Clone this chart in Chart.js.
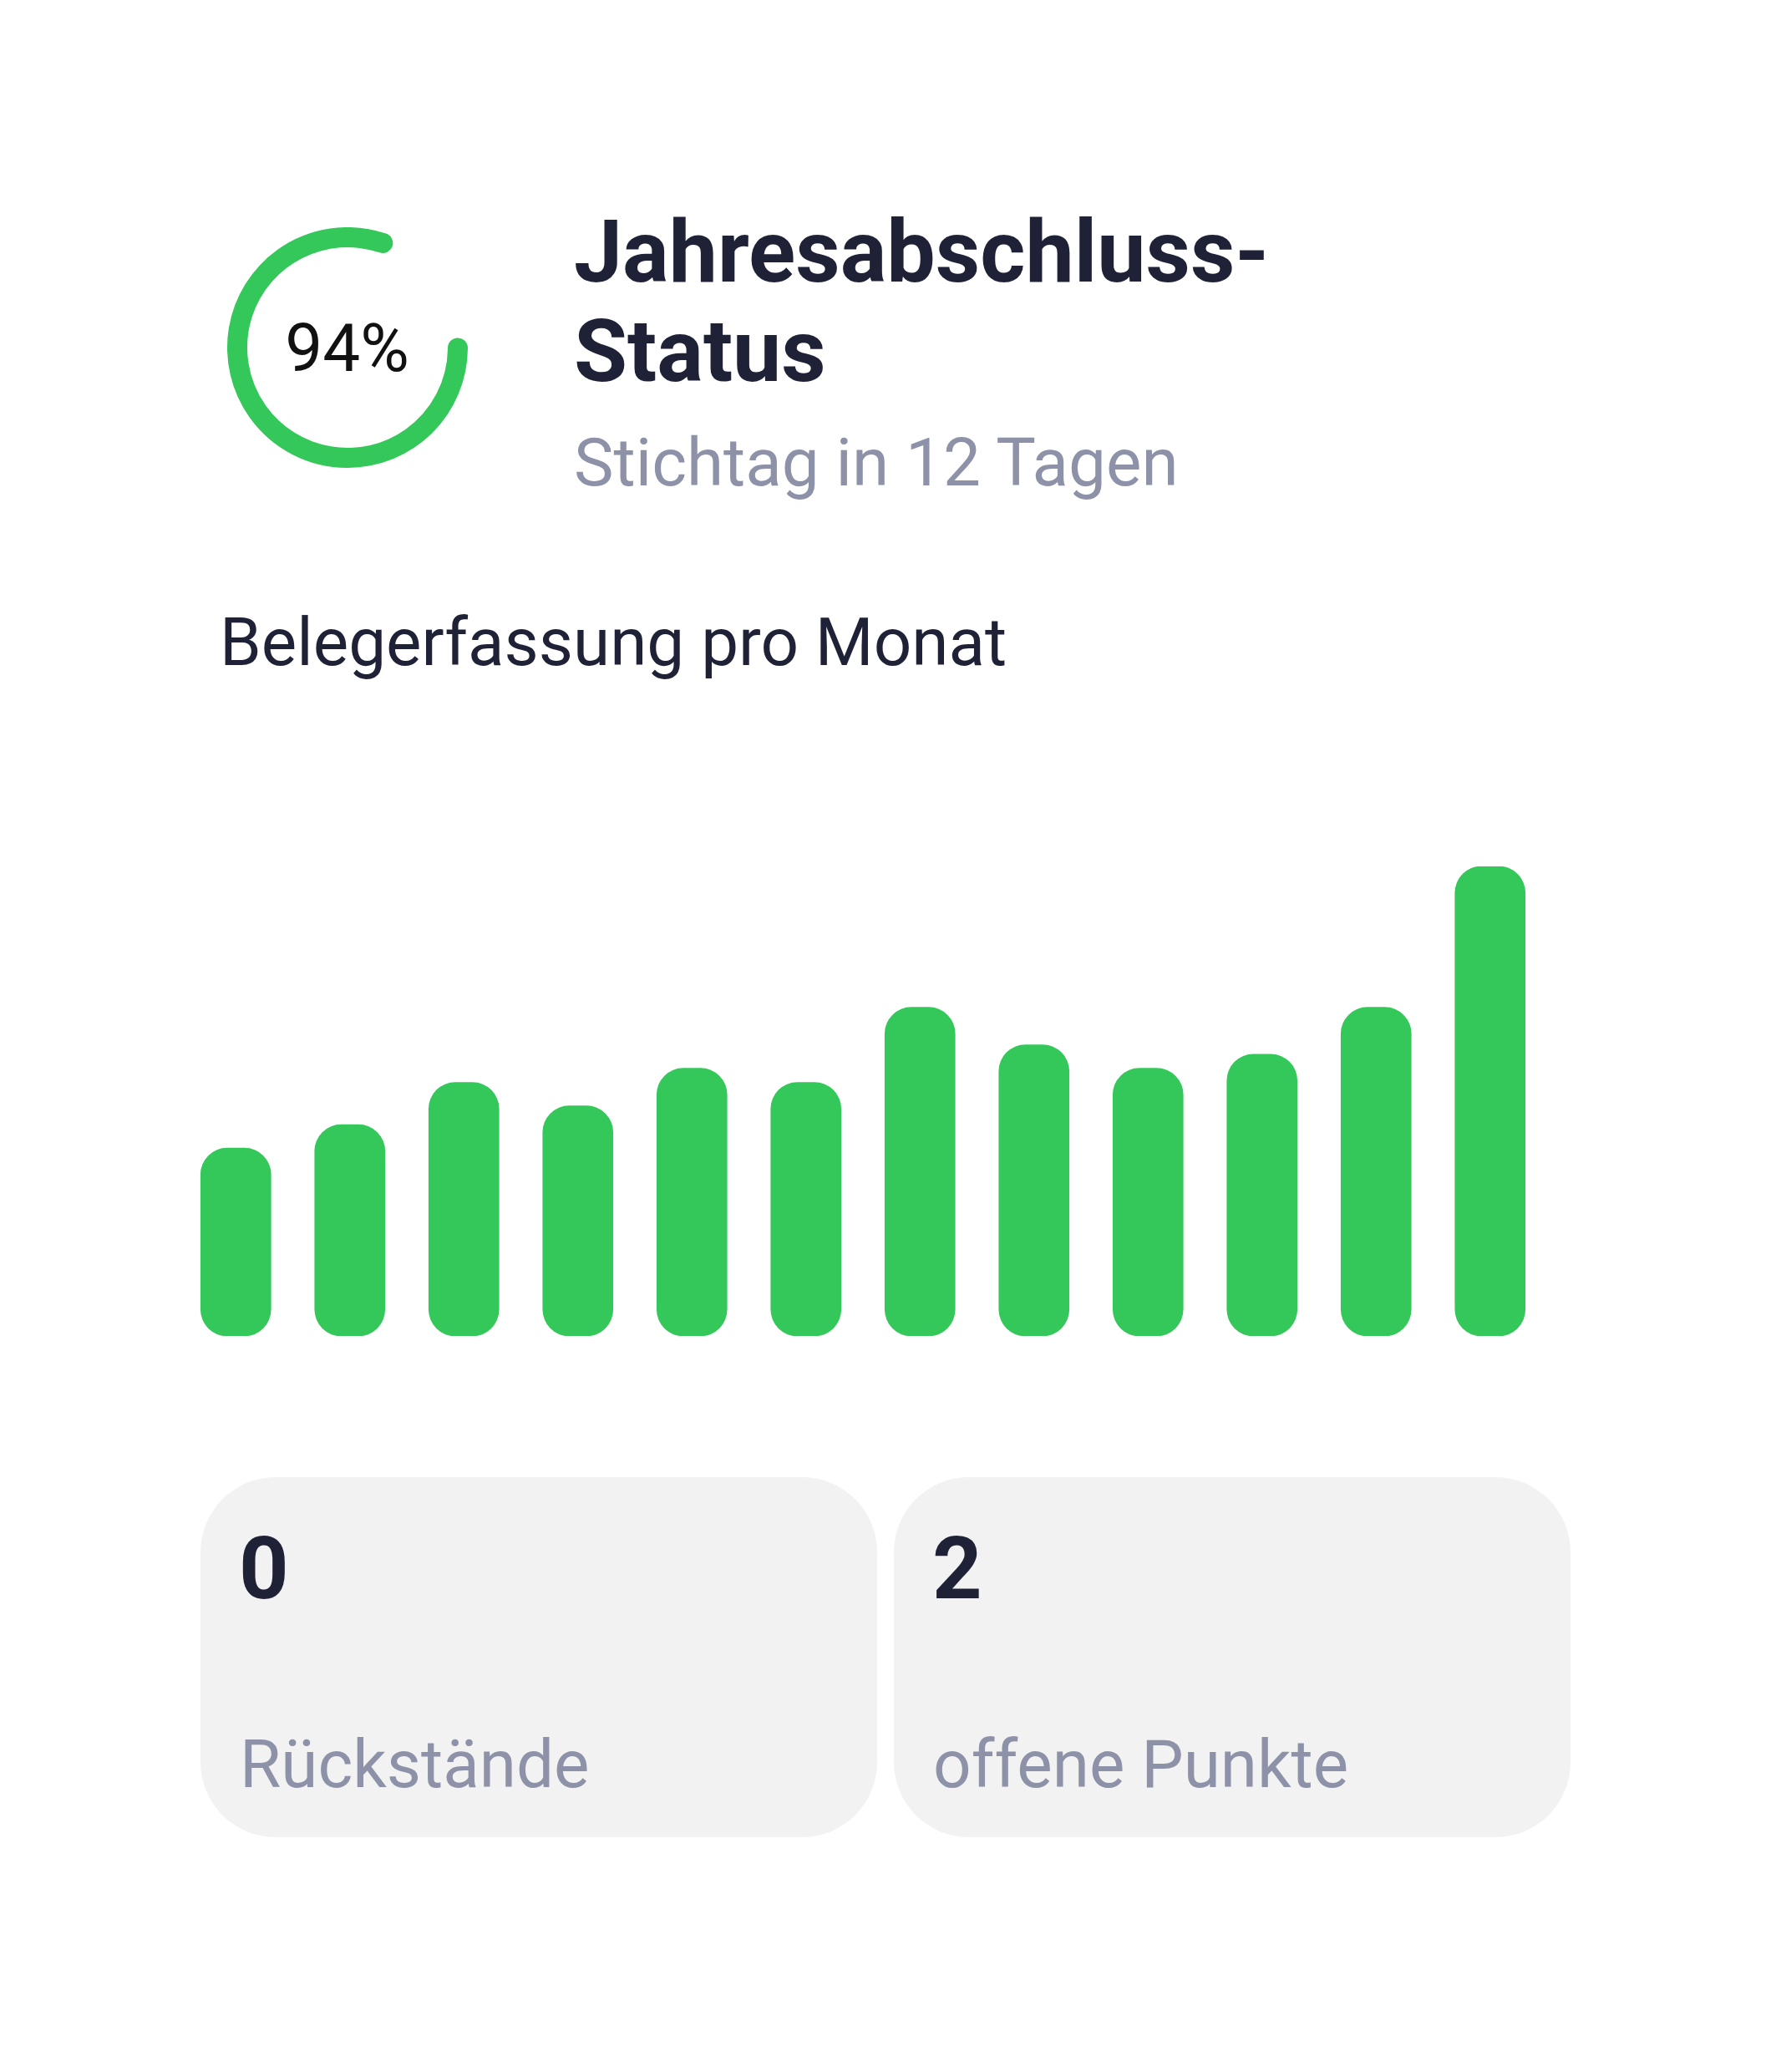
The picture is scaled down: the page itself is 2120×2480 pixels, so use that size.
<!DOCTYPE html>
<html lang="de">
<head>
<meta charset="utf-8">
<title>Jahresabschluss-Status</title>
<script src="https://cdn.jsdelivr.net/npm/chart.js@4.4.1/dist/chart.umd.min.js"></script>
<style>
  html, body { margin: 0; padding: 0; background: #ffffff; }
  body { width: 2120px; height: 2480px; position: relative; font-family: Roboto, "Noto Sans", sans-serif; color: #1f2237; }
  .abs { position: absolute; white-space: nowrap; }
  #ringBox { left: 271.5px; top: 271.5px; width: 288px; height: 288px; }
  #ringLabel { left: 271.5px; top: 377px; width: 288px; text-align: center; font-size: 80px; line-height: 80px; color: #111111; }
  #title { left: 687px; top: 241.7px; font-size: 104px; line-height: 119px; font-weight: 700; }
  #sub { left: 687px; top: 513.6px; font-size: 80px; line-height: 80px; color: #8e92a8; }
  #barTitle { left: 263px; top: 729.3px; font-size: 80px; line-height: 80px; }
  #barBox { left: 214px; top: 1036.5px; width: 1638px; height: 562px; }
  .card { position: absolute; top: 1768px; width: 810px; height: 431px; background: #f2f2f2; border-radius: 90px; }
  .card .num { position: absolute; left: 46px; top: 57.5px; font-size: 104px; line-height: 104px; font-weight: 700; }
  .card .lbl { position: absolute; left: 47px; top: 304px; font-size: 80px; line-height: 80px; color: #8e92a8; white-space: nowrap; }
</style>
</head>
<body>

<div class="abs" id="ringBox"><canvas id="ring"></canvas></div>
<div class="abs" id="ringLabel"></div>

<div class="abs" id="title">Jahresabschluss-<br>Status</div>
<div class="abs" id="sub">Stichtag in 12 Tagen</div>

<div class="abs" id="barTitle">Belegerfassung pro Monat</div>
<div class="abs" id="barBox"><canvas id="bars"></canvas></div>

<div class="card" style="left:240px"><div class="num" id="num0"></div><div class="lbl" id="lbl0"></div></div>
<div class="card" style="left:1070px"><div class="num" id="num1"></div><div class="lbl" id="lbl1"></div></div>

<script>
// Fortschritt Jahresabschluss
var fortschritt = 94;

// Belege pro Monat (max = 100)
var monate = ["Jan", "Feb", "Mär", "Apr", "Mai", "Jun", "Jul", "Aug", "Sep", "Okt", "Nov", "Dez"];
var belege = [40, 45, 54, 49, 57, 54, 70, 62, 57, 60, 70, 100];

// Kennzahlen unten
var kennzahlen = [0, 2];
var kennzahlLabels = ["Rückstände", "offene Punkte"];

var gruen = "#34c759";

document.getElementById("ringLabel").textContent = fortschritt + "%";
for (let i = 0; i < kennzahlen.length; i++) {
    document.getElementById("num" + i).textContent = kennzahlen[i];
    document.getElementById("lbl" + i).textContent = kennzahlLabels[i];
}

Chart.defaults.animation = false;

new Chart(document.getElementById("ring"), {
    type: "doughnut",
    data: {
        labels: ["erledigt", "offen"],
        datasets: [{
            data: [fortschritt, 100 - fortschritt],
            backgroundColor: [gruen, "rgba(0,0,0,0)"],
            borderWidth: 0,
            borderRadius: [12, 0]
        }]
    },
    options: {
        responsive: true,
        maintainAspectRatio: false,
        rotation: 85,
        circumference: 318,
        cutout: 120,
        events: [],
        plugins: { legend: { display: false }, tooltip: { enabled: false } }
    }
});

new Chart(document.getElementById("bars"), {
    type: "bar",
    data: {
        labels: monate,
        datasets: [{
            data: belege,
            backgroundColor: gruen,
            borderRadius: 32,
            borderSkipped: false,
            barThickness: 84
        }]
    },
    options: {
        responsive: true,
        maintainAspectRatio: false,
        events: [],
        layout: { padding: 0 },
        scales: {
            x: { display: false },
            y: { display: false, min: 0, max: 100 }
        },
        plugins: { legend: { display: false }, tooltip: { enabled: false } }
    }
});
</script>
</body>
</html>
